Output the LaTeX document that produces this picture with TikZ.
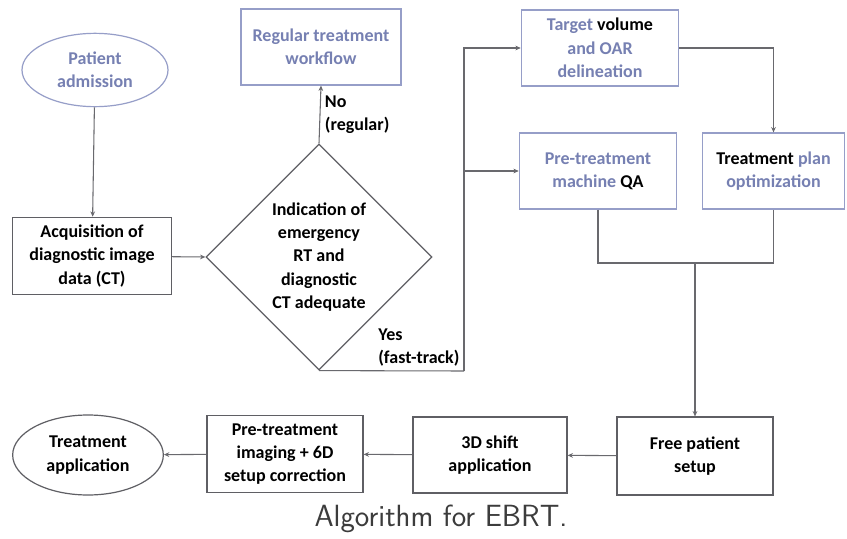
\documentclass[tikz,border=0pt]{standalone}
\usepackage{fontspec}
\setmainfont{Carlito}
\usetikzlibrary{shapes.geometric,arrows.meta}
\definecolor{slate}{RGB}{118,128,178}
\definecolor{frameblue}{RGB}{150,158,200}
\definecolor{framegray}{RGB}{95,95,100}
\definecolor{linegray}{RGB}{105,105,110}

\begin{document}
\begin{tikzpicture}[x=0.75pt,y=-0.75pt,
  every node/.style={font=\fontsize{13.5}{17.5}\selectfont\bfseries, align=center},
  boxb/.style={rectangle, draw=frameblue, line width=0.9pt, inner sep=0pt, text=slate},
  boxg/.style={rectangle, draw=framegray, line width=0.9pt, inner sep=0pt},
  oval/.style={ellipse, draw=framegray, line width=0.9pt, inner sep=0pt},
  link/.style={draw=linegray, line width=0.8pt},
  arr/.style={link, -{Stealth[length=4pt,width=3.5pt]}}]
		\fill[white] (0,0) rectangle (847,539);
		\useasboundingbox (0,0) rectangle (847,539);
		% top left
		\node[oval, draw=frameblue, text=slate, minimum width=109.5pt, minimum height=55pt] (adm) at (95,70) {Patient\\admission};
		\node[boxg, minimum width=119pt, minimum height=58pt] (acq) at (92,256) {Acquisition of\\diagnostic image\\data (CT)};
		\node[diamond, aspect=1, draw=framegray, line width=0.9pt, inner sep=0pt, minimum width=169.5pt, minimum height=169.5pt] (dia) at (319,257) {Indication of\\emergency\\RT and\\diagnostic\\CT adequate};
		\node[boxb, minimum width=120pt, minimum height=57pt] (reg) at (321,47) {Regular treatment\\workflow};
		% fast-track branch
		\node[boxb, minimum width=118pt, minimum height=57pt] (tgt) at (600,48) {Target \textcolor{black}{volume}\\and OAR\\delineation};
		\node[boxb, minimum width=118pt, minimum height=57pt] (qa) at (598,171) {Pre-treatment\\machine \textcolor{black}{QA}};
		\node[boxb, minimum width=107pt, minimum height=57pt] (plan) at (773.5,171) {\textcolor{black}{Treatment} plan\\optimization};
		% bottom row
		\node[boxg, minimum width=117pt, minimum height=58.5pt] (free) at (695,456) {Free patient\\setup};
		\node[boxg, minimum width=115.5pt, minimum height=57pt] (shift) at (490,455) {3D shift\\application};
		\node[boxg, minimum width=117pt, minimum height=58pt] (img) at (285,454) {Pre-treatment\\imaging + 6D\\setup correction};
		\node[oval, minimum width=113pt, minimum height=60pt] (app) at (88,455) {Treatment\\application};
		\node[font=\sffamily\fontsize{23}{27}\selectfont, text={rgb,255:red,60;green,60;blue,60}] (cap) at (441,519) {Algorithm for EBRT.};
		\coordinate (fork) at (464,371);
		\coordinate (merge) at (free.north |- 0,263);
		% connectors
		\draw[arr] (adm) -- (acq);
		\draw[arr] (acq) -- (dia.west);
		\draw[arr] (dia.north) -- node[right, align=left] {No\\(regular)} (reg.south);
		\draw[link] (dia.south) -- node[pos=1, above left, align=left, inner sep=3pt] {Yes\\(fast-track)} (fork);
		\draw[arr] (fork) |- (tgt.west);
		\draw[arr] (fork) |- (qa.west);
		\draw[arr] (tgt.east) -| (plan.north);
		\draw[link] (qa.south) |- (plan.south |- merge) -- (plan.south);
		\draw[arr] (merge) -- (free.north);
		\draw[arr] (free) -- (shift);
		\draw[arr] (shift) -- (img);
		\draw[arr] (img) -- (app);
	\end{tikzpicture}
\end{document}
